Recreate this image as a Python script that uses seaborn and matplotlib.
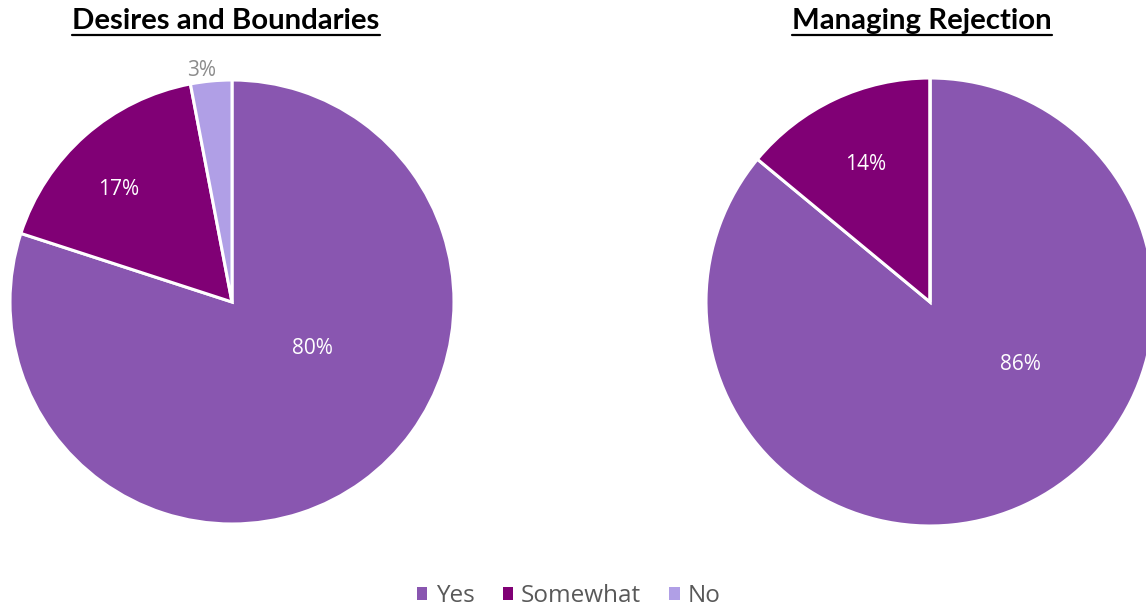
import numpy as np
import matplotlib
matplotlib.use("Agg")
import matplotlib.pyplot as plt
from matplotlib.lines import Line2D
from matplotlib.patches import Patch
import seaborn as sns

# Survey responses (percent)
categories = ["Yes", "Somewhat", "No"]
desires_values = [80, 17, 3]
rejection_values = [86, 14, 0]
titles = ["Desires and Boundaries", "Managing Rejection"]

palette = sns.color_palette(["#8956B0", "#800075", "#B09FE6"])

sns.set_theme(style="white")
plt.rcParams["font.family"] = ["Lato", "DejaVu Sans"]
body_font = ["Open Sans", "DejaVu Sans"]

W, H = 1146, 606
fig = plt.figure(figsize=(W / 100, H / 100), dpi=100)


def px_axes(cx, cy, r):
    return fig.add_axes([(cx - r) / W, (H - cy - r) / H, 2 * r / W, 2 * r / H])


def draw_pie(ax, values, label_radius, label_shift):
    wedges, _ = ax.pie(values, colors=palette, startangle=90, counterclock=False,
                       radius=1.0,
                       wedgeprops=dict(edgecolor="white", linewidth=2.2))
    ax.set_xlim(-1, 1)
    ax.set_ylim(-1, 1)
    ax.set_aspect("equal")
    ax.axis("off")
    for i, (w, v) in enumerate(zip(wedges, values)):
        if v <= 0:
            continue
        mid = np.deg2rad((w.theta1 + w.theta2) / 2 + label_shift[i])
        r = label_radius[i]
        inside = r < 1
        ax.text(r * np.cos(mid), r * np.sin(mid), f"{v}%",
                ha="center", va="center", fontsize=15, family=body_font,
                color="white" if inside else "#8C8C8C", clip_on=False)


ax1 = px_axes(232, 302, 222)
draw_pie(ax1, desires_values, [0.42, 0.72, 1.05], [24, 4, 2])
ax2 = px_axes(930, 302, 224)
draw_pie(ax2, rejection_values, [0.49, 0.68, 1.05], [30, 0, 0])

# Titles with underline
title_pos = [(226, 21), (922, 21)]
fig.canvas.draw()
renderer = fig.canvas.get_renderer()
for t, (x, y) in zip(titles, title_pos):
    txt = fig.text(x / W, 1 - y / H, t, ha="center", va="center",
                   fontsize=21.2, fontweight="bold", color="black")
    bb = txt.get_window_extent(renderer=renderer)
    uy = 1 - 35 / H
    fig.add_artist(Line2D([bb.x0 / W, bb.x1 / W], [uy, uy],
                          transform=fig.transFigure, color="black", lw=1.6))

handles = [Patch(facecolor=c, edgecolor="none") for c in palette]
fig.legend(handles, categories, loc="center", bbox_to_anchor=(569 / W, 1 - 596 / H),
           ncol=3, frameon=False, labelcolor="#595959",
           prop={"family": body_font, "size": 17.5},
           handlelength=0.42, handleheight=0.42, handletextpad=0.35,
           columnspacing=1.15, borderpad=0, borderaxespad=0)

fig.savefig("out.png", dpi=100)
